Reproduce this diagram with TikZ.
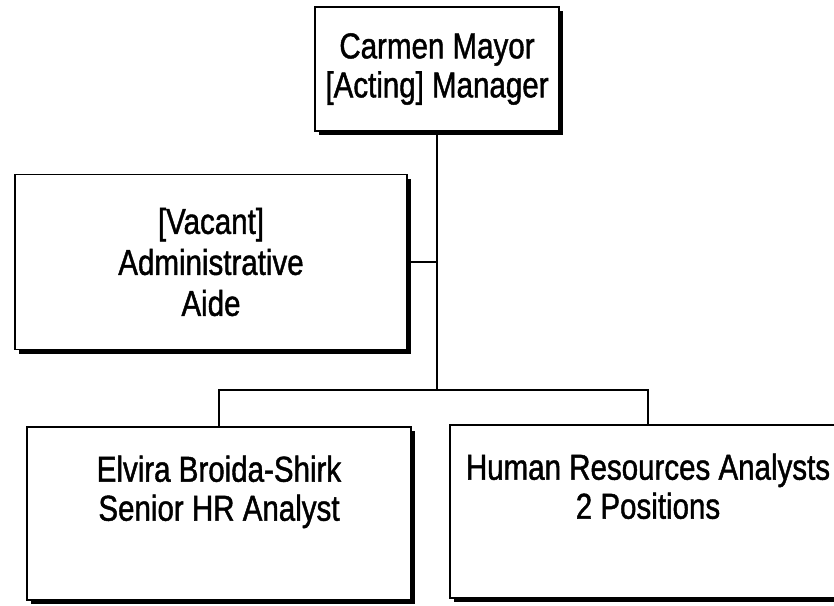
\documentclass[tikz,border=0pt]{standalone}
\usepackage{fontspec}
\setmainfont{Liberation Sans}[FakeStretch=0.82,FakeBold=1.2]
\usetikzlibrary{shadows}
\begin{document}
\begin{tikzpicture}[x=1pt,y=-1pt,
  orgbox/.style={draw=black, line width=1.5pt, fill=white, rectangle, inner sep=0pt,
    align=center, font=\fontsize{36}{39}\selectfont,
    drop shadow={opacity=1, fill=black, shadow xshift=4pt, shadow yshift=-4pt, rounded corners=3pt}},
  conn/.style={draw=black, line width=1.7pt}]
\useasboundingbox (0,0) rectangle (834,605);
\node[orgbox, minimum width=244pt, minimum height=124pt] (top) at (437,69) {Carmen Mayor\\{[}Acting{]} Manager};
\node[orgbox, minimum width=392pt, minimum height=175pt, font=\fontsize{36}{41}\selectfont] (admin) at (211,262) {{[}Vacant{]}\\Administrative\\Aide};
\node[orgbox, minimum width=384pt, minimum height=173pt] (bl) at (219,513.5) {Elvira Broida-Shirk\\Senior HR Analyst\\\strut};
\node[orgbox, minimum width=396pt, minimum height=173pt] (br) at (648,511.5) {Human Resources Analysts\\2 Positions\\\strut};
\coordinate (bar) at (437,391);
\draw[conn] (top.south) -- (bar);
\draw[conn] (admin.east) -- (admin.east -| bar);
\draw[conn] (bl.north) -- ++(0,-36) -| (br.north);
\end{tikzpicture}
\end{document}
